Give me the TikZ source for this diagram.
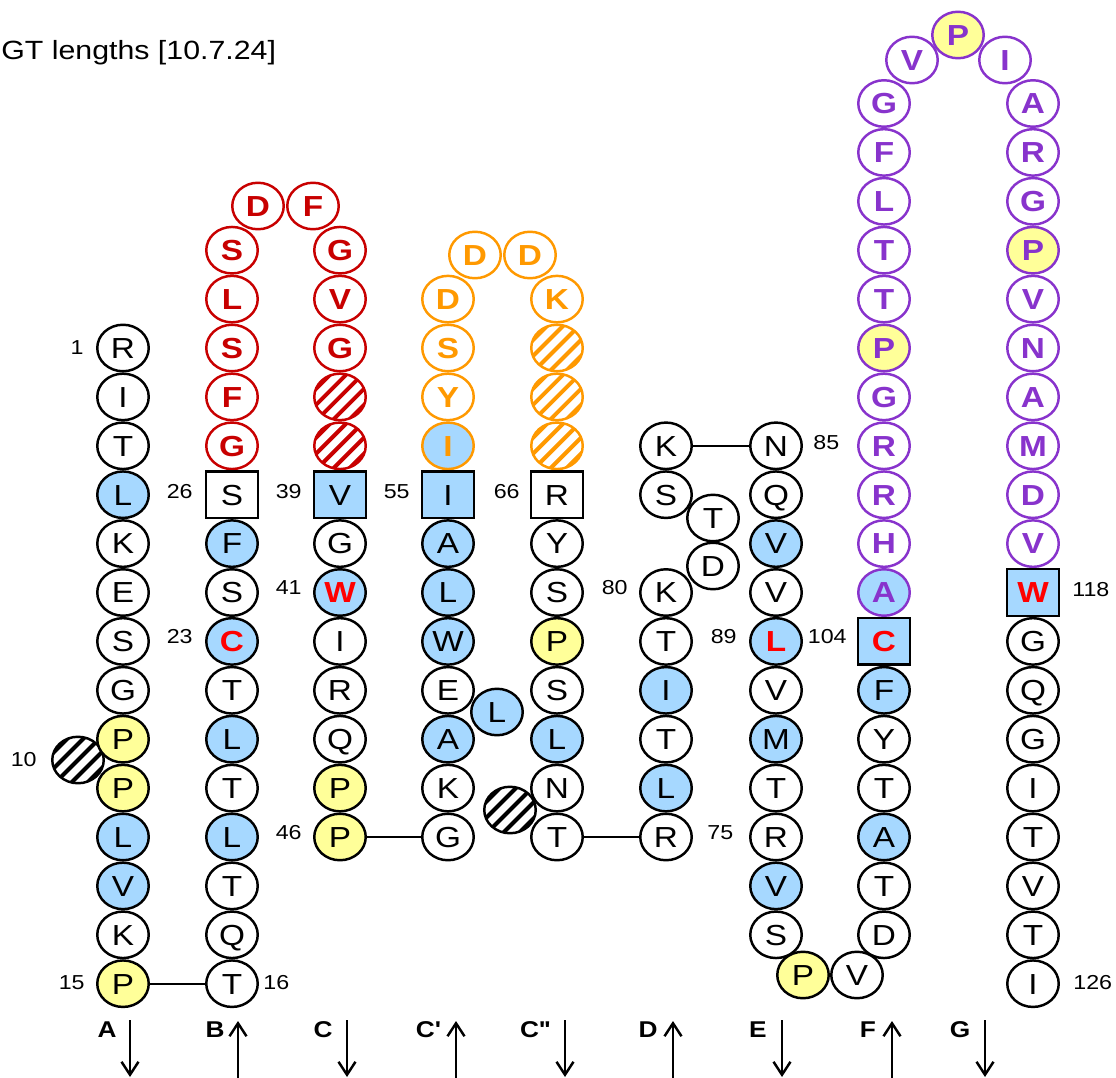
\documentclass[tikz,border=0pt]{standalone}
\usepackage{fontspec}
\setmainfont{Liberation Sans}[FakeStretch=1.15]
\usetikzlibrary{shapes.geometric, arrows.meta, calc}

\definecolor{hydblue}{HTML}{A6D8FF}
\definecolor{proyellow}{HTML}{FFFF99}
\definecolor{anchred}{HTML}{FF0000}
\definecolor{cdrred}{HTML}{C80000}
\definecolor{cdrorange}{HTML}{FF9900}
\definecolor{cdrpurple}{HTML}{8833CC}

\tikzset{hatch/.style={path picture={
  \foreach \h in {-3,...,3}
    \draw[line width=0.08cm, #1] ($(path picture bounding box.center)+({\h*0.32cm-0.8cm},-0.8cm)$) -- ++(1.6cm,1.6cm);}}}

\begin{document}
\begin{tikzpicture}[x=0.02cm, y=-0.02cm, >={Straight Barb[length=2.6mm, width=3.4mm]}]
        % Style definitions
        \tikzstyle{aa} = [draw, ellipse, fill=white, line width=1.4pt, minimum width=1.03cm, minimum height=0.93cm, inner sep=0pt, text height=11.8pt, text depth=0pt, font=\fontsize{16.5}{19}\selectfont]
        \tikzstyle{hyd} = [aa, fill=hydblue]
        \tikzstyle{pro} = [aa, fill=proyellow]
        \tikzstyle{anch} = [aa, fill=hydblue, text=anchred, font=\fontsize{16.5}{19}\selectfont\bfseries]
        \tikzstyle{gap} = [aa, hatch=black]
        \tikzstyle{box} = [aa, rectangle]
        \tikzstyle{boxhyd} = [box, fill=hydblue]
        \tikzstyle{boxanch} = [anch, rectangle]
        \tikzstyle{cdrone} = [aa, draw=cdrred, text=cdrred, font=\fontsize{16.5}{19}\selectfont\bfseries]
        \tikzstyle{cdronegap} = [cdrone, hatch=cdrred]
        \tikzstyle{cdrtwo} = [aa, draw=cdrorange, text=cdrorange, font=\fontsize{16.5}{19}\selectfont\bfseries]
        \tikzstyle{cdrtwohyd} = [cdrtwo, fill=hydblue]
        \tikzstyle{cdrtwogap} = [cdrtwo, hatch=cdrorange]
        \tikzstyle{cdrthree} = [aa, draw=cdrpurple, text=cdrpurple, font=\fontsize{16.5}{19}\selectfont\bfseries]
        \tikzstyle{cdrthreepro} = [cdrthree, fill=proyellow]
        \tikzstyle{cdrthreehyd} = [cdrthree, fill=hydblue]
        \tikzstyle{num} = [inner sep=0pt, font=\fontsize{11.5}{14}\selectfont]
        \tikzstyle{strand} = [inner sep=0pt, font=\fontsize{13}{16}\selectfont\bfseries]
        \tikzstyle{link} = [line width=1.2pt]
        \tikzstyle{sense} = [->, line width=1.4pt]

        \useasboundingbox (0,0) rectangle (1116,1078);
        \node[anchor=base west, inner sep=0pt, font=\fontsize{15}{18}\selectfont] (title) at (1,60) {GT lengths [10.7.24]};

        % Gaps behind the strands
        \node[gap] (gapA) at (78,760) {};
        \node[gap] (gapCpp) at (510,810) {};

        % Strands A to G
        \foreach \l/\s [count=\k] in {R/aa, I/aa, T/aa, L/hyd, K/aa, E/aa, S/aa, G/aa, P/pro, P/pro, L/hyd, V/hyd, K/aa, P/pro}
          \node[\s] (a\k) at (123, {348+48.9*(\k-1)}) {\l};
        \foreach \l/\s [count=\k] in {S/cdrone, L/cdrone, S/cdrone, F/cdrone, G/cdrone, S/box, F/hyd, S/aa, C/anch, T/aa, L/hyd, T/aa, L/hyd, T/aa, Q/aa, T/aa}
          \node[\s] (b\k) at (232, {348+48.9*(\k-3)}) {\l};
        \foreach \l/\s [count=\k] in {G/cdrone, V/cdrone, G/cdrone, {}/cdronegap, {}/cdronegap, V/boxhyd, G/aa, W/anch, I/aa, R/aa, Q/aa, P/pro, P/pro}
          \node[\s] (c\k) at (340, {348+48.9*(\k-3)}) {\l};
        \foreach \l/\s [count=\k] in {D/cdrtwo, S/cdrtwo, Y/cdrtwo, I/cdrtwohyd, I/boxhyd, A/hyd, L/hyd, W/hyd, E/aa, A/hyd, K/aa, G/aa}
          \node[\s] (cp\k) at (448, {348+48.9*(\k-2)}) {\l};
        \foreach \l/\s [count=\k] in {K/cdrtwo, {}/cdrtwogap, {}/cdrtwogap, {}/cdrtwogap, R/box, Y/aa, S/aa, P/pro, S/aa, L/hyd, N/aa, T/aa}
          \node[\s] (cpp\k) at (557, {348+48.9*(\k-2)}) {\l};
        \foreach \l/\s/\r [count=\k] in {K/aa/2, S/aa/3, K/aa/5, T/aa/6, I/hyd/7, T/aa/8, L/hyd/9, R/aa/10}
          \node[\s] (d\k) at (666, {348+48.9*\r}) {\l};
        \foreach \l/\s [count=\k] in {N/aa, Q/aa, V/hyd, V/aa, L/anch, V/aa, M/hyd, T/aa, R/aa, V/hyd, S/aa}
          \node[\s] (e\k) at (776, {348+48.9*(\k+1)}) {\l};
        \foreach \l/\s [count=\k] in {G/cdrthree, F/cdrthree, L/cdrthree, T/cdrthree, T/cdrthree, P/cdrthreepro, G/cdrthree, R/cdrthree, R/cdrthree, H/cdrthree, A/cdrthreehyd, C/boxanch, F/hyd, Y/aa, T/aa, A/hyd, T/aa, D/aa}
          \node[\s] (f\k) at (884, {348+48.9*(\k-6)}) {\l};
        \foreach \l/\s [count=\k] in {A/cdrthree, R/cdrthree, G/cdrthree, P/cdrthreepro, V/cdrthree, N/cdrthree, A/cdrthree, M/cdrthree, D/cdrthree, V/cdrthree, W/boxanch, G/aa, Q/aa, G/aa, I/aa, T/aa, V/aa, T/aa, I/aa}
          \node[\s] (g\k) at (1033, {348+48.9*(\k-6)}) {\l};

        % Loop tops and bulges
        \node[cdrone] (cdronetop1) at (258,206) {D};
        \node[cdrone] (cdronetop2) at (313,206) {F};
        \node[cdrtwo] (cdrtwotop1) at (475,255) {D};
        \node[cdrtwo] (cdrtwotop2) at (530,255) {D};
        \node[cdrthree] (cdrthreetop1) at (912,60) {V};
        \node[cdrthreepro] (cdrthreetop2) at (958,35) {P};
        \node[cdrthree] (cdrthreetop3) at (1005,60) {I};
        \node[hyd] (bulgeCp) at (497,712) {L};
        \node[aa] (bulgeD1) at (713,518) {T};
        \node[aa] (bulgeD2) at (713,566) {D};
        \node[pro] (turnEF1) at (803,975) {P};
        \node[aa] (turnEF2) at (857,975) {V};

        % Turns
        \draw[link] (a14) -- (b16);
        \draw[link] (c13) -- (cp12);
        \draw[link] (cpp12) -- (d8);
        \draw[link] (d1) -- (e1);

        % Positions
        \foreach \t/\a/\x/\y in {1/east/84/348, 26/east/193/492, 39/east/302/492, 55/east/410/492, 66/east/520/492, 23/east/193/637, 41/east/302/588, 46/east/302/833, 10/east/37/760, 15/east/85/983, 16/west/263/983, 80/east/628/588, 75/west/707/833, 85/west/813/443, 89/east/737/637, 104/east/847/637, 118/west/1072/590, 126/west/1073/983}
          \node[num, anchor=\a] (n\t) at (\x,\y) {\t};

        % Strand names and directions
        \foreach \n/\lab/\lx/\ax/\ya/\yb in {A/A/107/130/1020/1077, B/B/215/238/1078/1021, C/C/323/347/1020/1077, Cp/C\textquotesingle/428/456/1078/1021, Cpp/C\textquotesingle\textquotesingle/535/565/1020/1077, D/D/648/673/1078/1021, E/E/758/782/1020/1077, F/F/868/892/1078/1021, G/G/960/985/1020/1077} {
          \node[strand] (s\n) at (\lx,1030) {\lab};
          \coordinate (t\n) at (\ax,\ya);
          \coordinate (h\n) at (\ax,\yb);
          \draw[sense] (t\n) -- (h\n);
        }
\end{tikzpicture}
\end{document}
